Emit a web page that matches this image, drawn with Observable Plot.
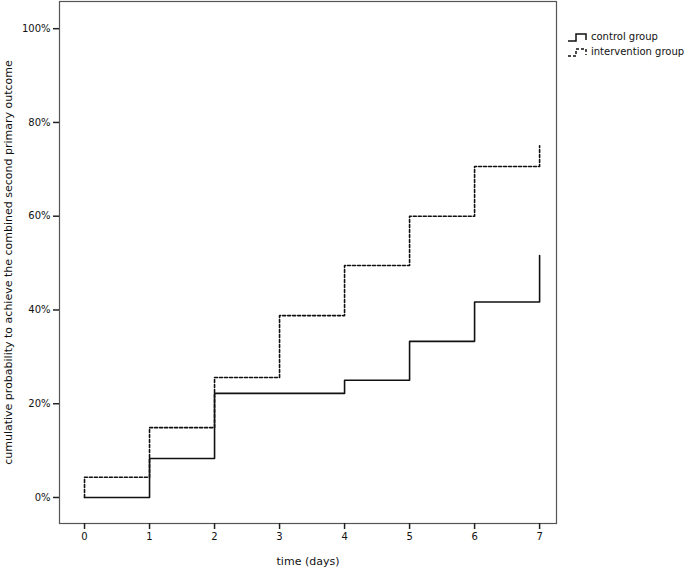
<!DOCTYPE html>
<html>
<head>
<meta charset="utf-8">
<script src="https://cdn.jsdelivr.net/npm/d3@7"></script>
<script src="https://cdn.jsdelivr.net/npm/@observablehq/plot@0.6"></script>
<style>
  body { margin: 0; background: #fff; font-family: "DejaVu Sans", sans-serif; }
  #wrap { position: relative; width: 685px; height: 567px; }
  #legend { position: absolute; left: 567px; top: 29px; font: 10px "DejaVu Sans", sans-serif; color: #111; line-height: 15px; }
  #legend div { display: flex; align-items: center; white-space: nowrap; }
  #legend svg { margin-right: 2px; }
</style>
</head>
<body>
<div id="wrap"><div id="legend"></div></div>
<script>
const days = [0, 1, 2, 3, 4, 5, 6, 7];
const controlValues = [0, 8.3, 22.2, 22.2, 25.0, 33.3, 41.7, 51.6];
const interventionDays = [0, 0, 1, 2, 3, 4, 5, 6, 7];
const interventionValues = [0, 4.3, 14.9, 25.6, 38.8, 49.5, 60.0, 70.6, 75.0];
const yTicks = [0, 20, 40, 60, 80, 100];
const seriesNames = ["control group", "intervention group"];

const control = days.map((d, i) => ({day: d, value: controlValues[i]}));
const intervention = interventionDays.map((d, i) => ({day: d, value: interventionValues[i]}));

const chart = Plot.plot({
  width: 685,
  height: 567,
  marginLeft: 59,
  marginRight: 129,
  marginTop: 1,
  marginBottom: 44,
  style: {fontFamily: "DejaVu Sans, sans-serif", fontSize: "10px", color: "#111", background: "#fff"},
  x: {domain: [-0.385, 7.26], ticks: days, tickFormat: d => d, label: null, tickSize: 6},
  y: {domain: [-5.55, 105.8], ticks: yTicks, tickFormat: d => d + "%", label: null, tickSize: 5},
  marks: [
    Plot.frame({stroke: "#555", strokeWidth: 1.2}),
    Plot.axisX({ticks: days, tickFormat: d => d, tickSize: 6, label: null, stroke: "#222", strokeWidth: 1.5, tickPadding: 3}),
    Plot.axisY({ticks: yTicks, tickFormat: d => d + "%", tickSize: 6, label: null, stroke: "#222", strokeWidth: 1.5, tickPadding: 3}),
    Plot.line(control, {x: "day", y: "value", curve: "step-after", stroke: "#111", strokeWidth: 1.6}),
    Plot.line(intervention, {x: "day", y: "value", curve: "step-after", stroke: "#111", strokeWidth: 1.6, strokeDasharray: "3,2"}),
    Plot.text(["time (days)"], {frameAnchor: "bottom", dy: 41, text: d => d, fontSize: 11}),
    Plot.text(["cumulative probability to achieve the combined second primary outcome"], {frameAnchor: "left", dx: -51, rotate: -90, textAnchor: "middle", text: d => d, fontSize: 11})
  ]
});
document.getElementById("wrap").prepend(chart);

const legend = d3.select("#legend");
seriesNames.forEach((name, i) => {
  const row = legend.append("div");
  const svg = row.append("svg").attr("width", 22).attr("height", 12);
  svg.append("path")
    .attr("d", "M1,10 H9 V3 H19 V9")
    .attr("fill", "none").attr("stroke", "#111").attr("stroke-width", 1.5)
    .attr("stroke-dasharray", i === 1 ? "3,2" : null);
  row.append("span").text(name);
});
</script>
</body>
</html>
